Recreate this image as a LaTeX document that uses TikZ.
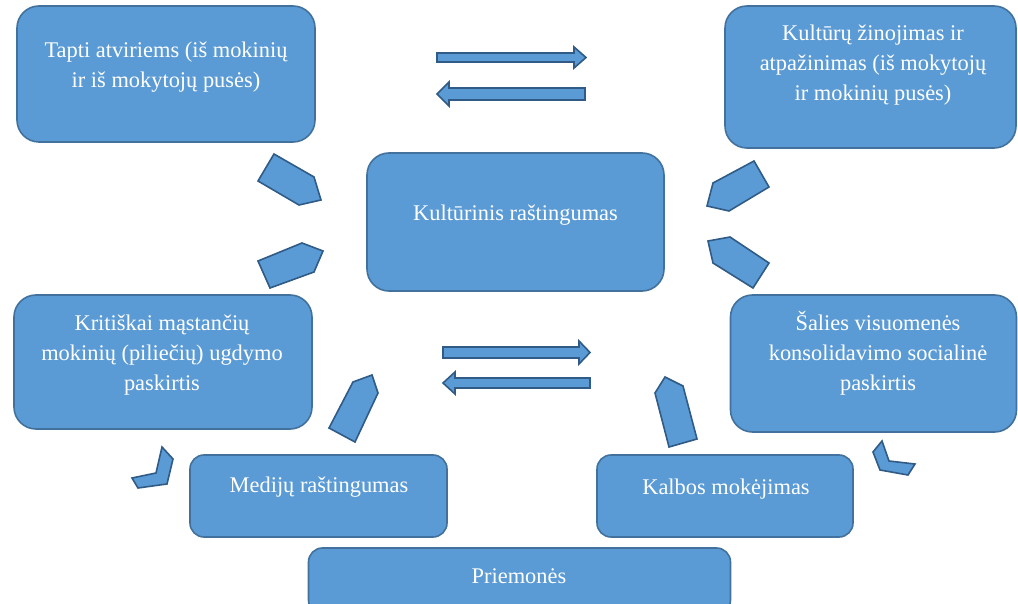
\documentclass[tikz,border=0pt]{standalone}
\usepackage{fontspec}
\setmainfont{Liberation Serif}
\usepackage{tikz}

\definecolor{boxblue}{HTML}{5B9BD5}
\definecolor{boxedge}{HTML}{41719C}
\definecolor{arrowedge}{HTML}{2F5B86}

\begin{document}
\begin{tikzpicture}[x=1pt,y=-1pt]

\tikzstyle{every node}=[font=\fontsize{22.4}{30}\selectfont, text=white]
\tikzstyle{box}=[draw=boxedge, fill=boxblue, line width=1.6pt, rounded corners=22pt]
\tikzstyle{smallbox}=[box, rounded corners=14pt]
\tikzstyle{txt}=[align=center, inner sep=0pt]
\tikzstyle{blockarrow}=[draw=arrowedge, fill=boxblue, line width=1.6pt, line join=miter]

\useasboundingbox (0,0) rectangle (1018,604);

% upper row
\node[box, minimum width=298pt, minimum height=136pt] (tapti) at (166,74) {};
\node[txt] (tapti_text) at (166,67) {Tapti atviriems (iš mokinių\\ir iš mokytojų pusės)};

\node[box, minimum width=291pt, minimum height=142pt] (zinojimas) at (870.5,77) {};
\node[txt] (zinojimas_text) at (873,65) {Kultūrų žinojimas ir\\atpažinimas (iš mokytojų\\ir mokinių pusės)};

% centre
\node[box, minimum width=297pt, minimum height=138pt] (rastingumas) at (515.5,222) {};
\node[txt] (rastingumas_text) at (515.5,215) {Kultūrinis raštingumas};

% middle row
\node[box, minimum width=298pt, minimum height=134pt] (kritiskai) at (163,362) {};
\node[txt] (kritiskai_text) at (162,355) {Kritiškai mąstančių\\mokinių (piliečių) ugdymo\\paskirtis};

\node[box, minimum width=286pt, minimum height=137pt] (salies) at (873.5,363.5) {};
\node[txt] (salies_text) at (878,353) {Šalies visuomenės\\konsolidavimo socialinė\\paskirtis};

% lower row
\node[smallbox, minimum width=257pt, minimum height=82pt] (medija) at (318.5,496) {};
\node[txt] (medija_text) at (319,487) {Medijų raštingumas};

\node[smallbox, minimum width=256pt, minimum height=82pt] (kalba) at (725,496) {};
\node[txt] (kalba_text) at (726,489) {Kalbos mokėjimas};

\node[smallbox, minimum width=422pt, minimum height=66pt] (priemones) at (519.5,581) {};
\node[txt] (priemones_text) at (519,576) {Priemonės};

% block arrows between the upper boxes
\draw[blockarrow] (437,53) -- (574,53) -- (574,47) -- (586,57.5) -- (574,68) -- (574,62) -- (437,62) -- cycle;
\draw[blockarrow] (585,88) -- (449,88) -- (449,82) -- (437,94) -- (449,106) -- (449,100) -- (585,100) -- cycle;

% block arrows between the middle boxes
\draw[blockarrow] (443,347) -- (579,347) -- (579,341) -- (590,352.5) -- (579,364) -- (579,358) -- (443,358) -- cycle;
\draw[blockarrow] (590,378) -- (455,378) -- (455,372) -- (443,383) -- (455,394) -- (455,388) -- (590,388) -- cycle;

% pointers towards the centre
\draw[blockarrow] (274,154) -- (314,177) -- (321,200) -- (299,205) -- (258,181) -- cycle;
\draw[blockarrow] (258,261) -- (302,243) -- (323,251) -- (314,272) -- (270,288) -- cycle;
\draw[blockarrow] (754,161) -- (769,187) -- (729,211) -- (707,206) -- (713,183) -- cycle;
\draw[blockarrow] (708,241) -- (730,237) -- (769,263) -- (753,288) -- (713,263) -- cycle;

% pointers from the lower boxes
\draw[blockarrow] (329,428) -- (353,382) -- (372,375) -- (378,393) -- (355,442) -- cycle;
\draw[blockarrow] (655,393) -- (665,377) -- (683,386) -- (697,439) -- (669,447) -- cycle;

% small bent pointers
\draw[blockarrow] (162,447) -- (173,459) -- (167,484) -- (138,488) -- (132,478) -- (156,473) -- cycle;
\draw[blockarrow] (882,441) -- (873,452) -- (880,470) -- (908,475) -- (915,464) -- (889,461) -- cycle;

\end{tikzpicture}
\end{document}
